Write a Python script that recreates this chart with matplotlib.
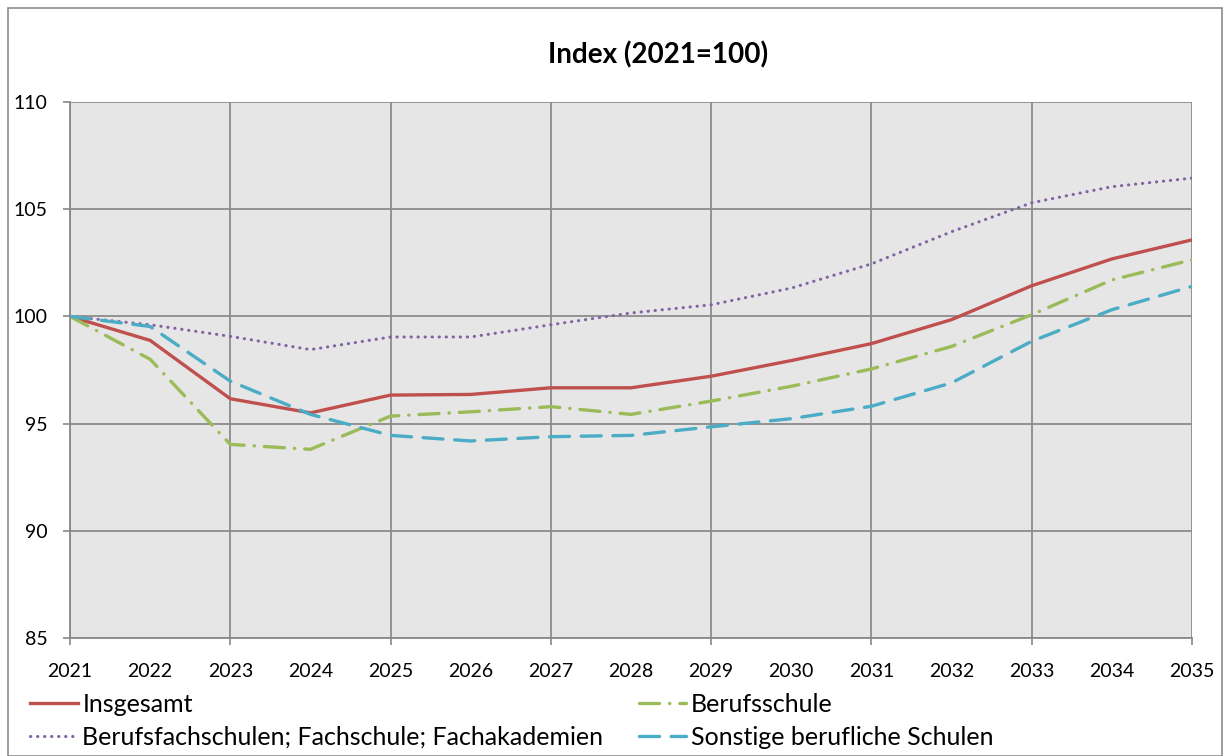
import numpy as np
import matplotlib.pyplot as plt
from matplotlib.patches import Rectangle

years = list(range(2021, 2036))

insgesamt = [100, 98.88, 96.16, 95.5, 96.33, 96.36, 96.67, 96.67, 97.21, 97.94,
             98.73, 99.85, 101.43, 102.68, 103.57]
berufsfach = [100, 99.61, 99.07, 98.45, 99.04, 99.04, 99.61, 100.16, 100.54, 101.32,
              102.45, 103.95, 105.3, 106.05, 106.45]
berufsschule = [100, 98.0, 94.03, 93.8, 95.35, 95.55, 95.79, 95.43, 96.05, 96.74,
                97.55, 98.6, 100.08, 101.7, 102.64]
sonstige = [100, 99.53, 96.98, 95.43, 94.45, 94.19, 94.39, 94.45, 94.85, 95.23,
            95.81, 96.9, 98.84, 100.31, 101.4]

labels = ["Insgesamt", "Berufsfachschulen; Fachschule; Fachakademien",
          "Berufsschule", "Sonstige berufliche Schulen"]

plt.rcParams['font.family'] = ['Lato', 'DejaVu Sans']

fig = plt.figure(figsize=(12.25, 7.56), dpi=100)
ax = fig.add_axes([70/1225, 1-638/756, (1192-70)/1225, (638-102)/756])
ax.set_facecolor('#e6e6e6')

ax.plot(years, insgesamt, color='#c0504d', lw=2.4, label=labels[0])
ax.plot(years, berufsfach, color='#8064a2', lw=2.2, linestyle=(0, (0.1, 2.2)),
        dash_capstyle='round', label=labels[1])
ax.plot(years, berufsschule, color='#9bbb59', lw=2.4, linestyle=(0, (6, 3, 0.1, 3)),
        dash_capstyle='round', label=labels[2])
ax.plot(years, sonstige, color='#4bacc6', lw=2.4, linestyle=(0, (6, 3.5)),
        dash_capstyle='round', label=labels[3])

ax.set_xlim(2021, 2035)
ax.set_ylim(85, 110)
ax.set_yticks(np.arange(85, 111, 5))
# grid + tick marks every two years, labels every year
ax.set_xticks(years[::2])
ax.set_xticklabels([str(y) for y in years[::2]])
ax.set_xticks(years[1::2], minor=True)
ax.set_xticklabels([str(y) for y in years[1::2]], minor=True)
ax.tick_params(axis='x', which='major', length=5, width=1.2, color='#888888',
               labelsize=14, pad=13)
ax.tick_params(axis='x', which='minor', length=0, labelsize=14, pad=18)
ax.tick_params(axis='y', length=5, width=1.2, color='#888888', labelsize=14, pad=11)

ax.grid(True, which='major', color='#8c8c8c', lw=1.3)
ax.set_axisbelow(True)
for s in ['top', 'right']:
    ax.spines[s].set_visible(False)
for s in ['left', 'bottom']:
    ax.spines[s].set_color('#888888')
    ax.spines[s].set_linewidth(1.3)

fig.text(658/1225, 1-55/756, "Index (2021=100)", ha='center', va='center',
         fontsize=20, fontweight='bold')

fig.legend(loc='upper left', bbox_to_anchor=(30/1225, 1-693/756), ncol=2,
           frameon=False, fontsize=18, handlelength=1.9, handletextpad=0.2,
           columnspacing=1.4, labelspacing=0.4, borderaxespad=0, borderpad=0)

fig.patches.append(Rectangle((8/1225, 0), 1-11/1225, 1-8/756, transform=fig.transFigure,
                             fill=False, edgecolor='#8c8c8c', lw=1.2))

fig.savefig("out.png", dpi=100)
